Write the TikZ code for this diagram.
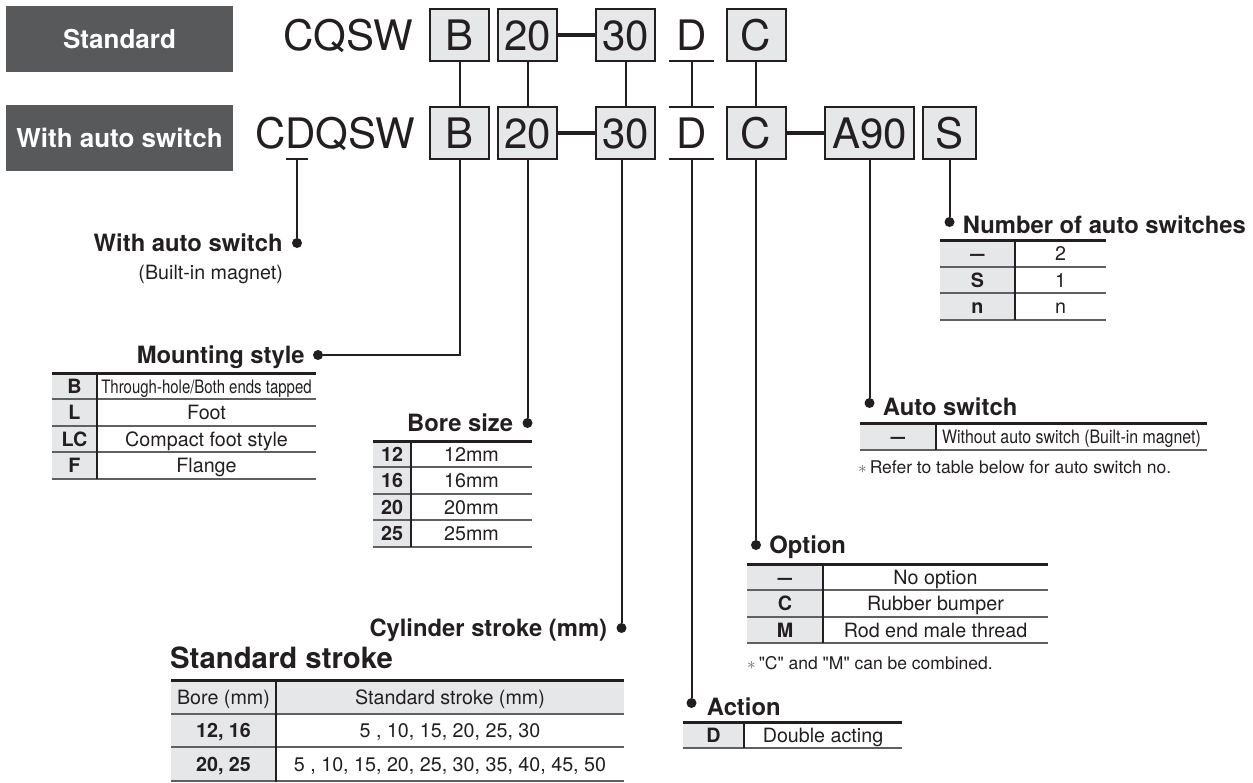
\documentclass[tikz,border=0pt]{standalone}
\usepackage{fontspec}
\setmainfont{TeX Gyre Heros}
\usepackage{graphicx}
\usepackage{tikz}
\usetikzlibrary{positioning}
\definecolor{tagdark}{RGB}{88,89,91}
\definecolor{inkdark}{RGB}{35,31,32}
\definecolor{boxgray}{RGB}{230,231,232}
\definecolor{rulegray}{RGB}{95,96,98}
\newcommand{\partnofont}{\fontsize{42}{42}\selectfont}
\newcommand{\tagfont}{\fontsize{26}{26}\selectfont\bfseries}
\newcommand{\headingfont}{\fontsize{23.8}{24}\selectfont\bfseries}
\newcommand{\cellfont}{\fontsize{19.7}{20}\selectfont}
\newcommand{\remarkfont}{\fontsize{17.5}{18}\selectfont}
\newcommand{\squeeze}[2]{\scalebox{#1}[1]{#2}}
\newcommand{\remarkstar}{\textcolor{rulegray}{$\ast$}\,}
\newcommand{\nodash}{\squeeze{1.3}{--}}

\begin{document}
\begin{tikzpicture}[x=1pt, y=-1pt,
  tagbox/.style={fill=tagdark, text=white, minimum width=227pt, minimum height=66pt, inner sep=0pt, font=\tagfont},
  series/.style={inner sep=0pt, text height=30pt, text depth=0pt, font=\partnofont, text=inkdark},
  partbox/.style={series, draw=inkdark, line width=2pt, fill=boxgray, minimum width=59pt, minimum height=52pt},
  bare/.style={series, minimum width=45pt, minimum height=52pt},
  leader/.style={draw=inkdark, line width=2pt},
  dashbar/.style={draw=inkdark, line width=4pt},
  pin/.style={circle, fill=inkdark, inner sep=0pt, minimum size=10pt},
  heading/.style={inner sep=0pt, text height=17pt, text depth=0pt, font=\headingfont, text=inkdark},
  cell/.style={inner sep=0pt, text height=14.2pt, text depth=0pt, font=\cellfont, text=inkdark},
  codecell/.style={cell, font=\cellfont\bfseries},
  remark/.style={inner sep=0pt, text height=12.6pt, text depth=0pt, font=\remarkfont, text=inkdark, anchor=west},
  toprule/.style={draw=inkdark, line width=3pt},
  rowrule/.style={draw=rulegray, line width=1.3pt},
  colrule/.style={draw=inkdark, line width=1.2pt}]

\useasboundingbox (0,0) rectangle (1253,782);

% ordering labels
\node[tagbox] (stdtag) at (119.5,39) {Standard};
\node[tagbox] (wastag) at (119.5,138) {With auto switch};

% standard model
\node[series, anchor=east] (cqsw) at (413,35) {CQSW};
\node[partbox] (mtga) at (459.5,35) {B};
\node[partbox] (bora) at (527.5,35) {20};
\node[partbox] (stka) at (625.5,35) {30};
\node[bare] (acta) at (691.5,35) {D};
\node[partbox] (opta) at (756,35) {C};
\draw[dashbar] (bora.east) -- (stka.west);
\draw[leader] (acta.south west) -- (acta.south east);

% model with auto switch
\node[series, anchor=east] (cdqsw) at (415,133) {CDQSW};
\node[partbox] (mtgb) at (459.5,133) {B};
\node[partbox] (borb) at (527.5,133) {20};
\node[partbox] (stkb) at (625.5,133) {30};
\node[bare] (actb) at (691.5,133) {D};
\node[partbox] (optb) at (756,133) {C};
\node[partbox, minimum width=89pt] (swb) at (869.5,133) {A90};
\node[partbox, minimum width=53pt] (numb) at (949.5,133) {S};
\draw[dashbar] (borb.east) -- (stkb.west);
\draw[dashbar] (optb.east) -- (swb.west);
\draw[leader] (actb.north west) -- (actb.north east);
\draw[leader] (actb.south west) -- (actb.south east);

% links between the two rows
\draw[leader] (mtga.south) -- (mtgb.north);
\draw[leader] (bora.south) -- (borb.north);
\draw[leader] (stka.south) -- (stkb.north);
\draw[leader] (acta.south) -- (actb.north);
\draw[leader] (opta.south) -- (optb.north);

% with auto switch
\coordinate (cdqD) at (297,159);
\node[pin] (waspin) at (297,243) {};
\draw[leader] ([xshift=-11pt]cdqD) -- ([xshift=11pt]cdqD);
\draw[leader] (cdqD) -- (waspin);
\node[heading, left=9pt of waspin] (washead) {With auto switch};
\node[cell, anchor=east] (wasnote) at (283,272) {(Built-in magnet)};

% mounting style
\node[pin] (mtgpin) at (318,355) {};
\draw[leader] (mtgb.south) |- (mtgpin);
\node[heading, left=8pt of mtgpin] (mtghead) {Mounting style};
\fill[boxgray] (52,373) rectangle (97,479);
\draw[rowrule] (52,399) -- (316,399) (52,426) -- (316,426) (52,452) -- (316,452) (52,479) -- (316,479);
\draw[colrule] (97,373) -- (97,479);
\draw[toprule] (52,373) -- (316,373);
\node[codecell] at (74.5,386) {B};
\node[cell] at (206.5,386) {\squeeze{0.81}{\fontsize{18.5}{19}\selectfont Through-hole/Both ends tapped}};
\node[codecell] at (74.5,412.5) {L};
\node[cell] at (206.5,412.5) {Foot};
\node[codecell] at (74.5,439) {LC};
\node[cell] at (206.5,439) {Compact foot style};
\node[codecell] at (74.5,465.5) {F};
\node[cell] at (206.5,465.5) {Flange};

% bore size
\node[pin] (borpin) at (527.5,423) {};
\draw[leader] (borb.south) -- (borpin);
\node[heading, left=9pt of borpin] (borhead) {Bore size};
\fill[boxgray] (373,441) rectangle (411,547);
\draw[rowrule] (373,467) -- (532,467) (373,494) -- (532,494) (373,520) -- (532,520) (373,547) -- (532,547);
\draw[colrule] (411,441) -- (411,547);
\draw[toprule] (373,441) -- (532,441);
\node[codecell] at (392,454) {12};
\node[cell] at (471.5,454) {12mm};
\node[codecell] at (392,480.5) {16};
\node[cell] at (471.5,480.5) {16mm};
\node[codecell] at (392,507) {20};
\node[cell] at (471.5,507) {20mm};
\node[codecell] at (392,533.5) {25};
\node[cell] at (471.5,533.5) {25mm};

% cylinder stroke
\node[pin] (stkpin) at (621.5,628) {};
\draw[leader] ([xshift=-4pt]stkb.south) -- (stkpin);
\node[heading, left=9pt of stkpin] (stkhead) {Cylinder stroke (mm)};
\node[inner sep=0pt, anchor=base west, font=\fontsize{29.3}{30}\selectfont\bfseries, text=inkdark] (stktitle) at (170,668) {Standard stroke};
\fill[boxgray] (171,680) rectangle (624,714);
\fill[boxgray] (171,714) rectangle (276,782);
\draw[rowrule] (171,714) -- (624,714) (171,747) -- (624,747) (171,781) -- (624,781);
\draw[colrule] (276,680) -- (276,782);
\draw[toprule] (171,680) -- (624,680);
\node[cell] at (223.5,697) {Bore (mm)};
\node[cell] at (450,697) {Standard stroke (mm)};
\node[codecell] at (223.5,730.5) {12, 16};
\node[cell] at (450,730.5) {5 , 10, 15, 20, 25, 30};
\node[codecell] at (223.5,764.5) {20, 25};
\node[cell] at (450,764.5) {5 , 10, 15, 20, 25, 30, 35, 40, 45, 50};

% action
\node[pin] (actpin) at (691.5,703) {};
\draw[leader] (actb.south) -- (actpin);
\node[heading, right=10pt of actpin, yshift=-4pt] (acthead) {Action};
\fill[boxgray] (683,722) rectangle (744,748);
\draw[rowrule] (683,748) -- (902,748);
\draw[colrule] (744,722) -- (744,748);
\draw[toprule] (683,722) -- (902,722);
\node[codecell] at (713.5,735) {D};
\node[cell] at (823,735) {Double acting};

% option
\node[pin] (optpin) at (756,545) {};
\draw[leader] (optb.south) -- (optpin);
\node[heading, right=8pt of optpin] (opthead) {Option};
\fill[boxgray] (747,564) rectangle (823,643);
\draw[rowrule] (747,590) -- (1048,590) (747,617) -- (1048,617) (747,643) -- (1048,643);
\draw[colrule] (823,564) -- (823,643);
\draw[toprule] (747,564) -- (1048,564);
\node[codecell] at (785,577) {\nodash};
\node[cell] at (935.5,577) {No option};
\node[codecell] at (785,603.5) {C};
\node[cell] at (935.5,603.5) {Rubber bumper};
\node[codecell] at (785,630) {M};
\node[cell] at (935.5,630) {Rod end male thread};
\node[remark] (optnote) at (747,663) {\remarkstar\textquotedbl C\textquotedbl\ and \textquotedbl M\textquotedbl\ can be combined.};

% auto switch
\node[pin] (swpin) at (869.5,403) {};
\draw[leader] (swb.south) -- (swpin);
\node[heading, right=8pt of swpin, yshift=-4pt] (swhead) {Auto switch};
\fill[boxgray] (860,423) rectangle (936,450);
\draw[rowrule] (860,450) -- (1207,450);
\draw[colrule] (936,423) -- (936,450);
\draw[toprule] (860,423) -- (1207,423);
\node[codecell] at (898,436.5) {\nodash};
\node[cell] at (1071.5,436.5) {\squeeze{0.86}{\fontsize{18.5}{19}\selectfont Without auto switch (Built-in magnet)}};
\node[remark] (swnote) at (858,467) {\remarkstar Refer to table below for auto switch no.};

% number of auto switches
\node[pin] (numpin) at (949.5,222) {};
\draw[leader] (numb.south) -- (numpin);
\node[heading, right=8pt of numpin, yshift=-3pt] (numhead) {Number of auto switches};
\fill[boxgray] (940,240) rectangle (1015,320);
\draw[rowrule] (940,267) -- (1106,267) (940,293) -- (1106,293) (940,320) -- (1106,320);
\draw[colrule] (1015,240) -- (1015,320);
\draw[toprule] (940,240) -- (1106,240);
\node[codecell] at (977.5,253.5) {\nodash};
\node[cell] at (1060.5,253.5) {2};
\node[codecell] at (977.5,280) {S};
\node[cell] at (1060.5,280) {1};
\node[codecell] at (977.5,306.5) {n};
\node[cell] at (1060.5,306.5) {n};
\end{tikzpicture}
\end{document}
